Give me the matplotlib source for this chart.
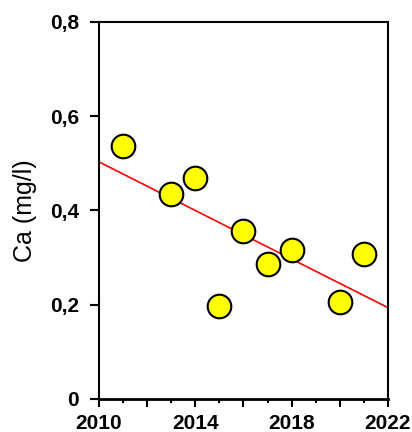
import numpy as np
import matplotlib
matplotlib.use("Agg")
import matplotlib.pyplot as plt
from matplotlib.ticker import FixedLocator, FixedFormatter

years = [2011, 2013, 2014, 2015, 2016, 2017, 2018, 2020, 2021]
ca = [0.536, 0.435, 0.468, 0.197, 0.357, 0.286, 0.316, 0.206, 0.307]

x_major = [2010, 2012, 2014, 2016, 2018, 2020, 2022]
x_major_labels = ["2010", "", "2014", "", "2018", "", "2022"]
x_minor = [2011, 2013, 2015, 2017, 2019, 2021]
y_ticks = [0, 0.2, 0.4, 0.6, 0.8]
y_tick_labels = ["0", "0,2", "0,4", "0,6", "0,8"]
ylabel = "Ca (mg/l)"

plt.rcParams['font.family'] = ['Liberation Sans', 'DejaVu Sans']

fig = plt.figure(figsize=(4.12, 4.32), dpi=100)
ax = fig.add_axes([0.2403, 0.0764, 0.9417 - 0.2403, 0.9498 - 0.0764])

# regression trend line
coef = np.polyfit(years, ca, 1)
xl = np.array([2010, 2022])
ax.plot(xl, np.polyval(coef, xl), color='red', lw=1.2, zorder=2)

ax.plot(years, ca, 'o', ms=17, mfc='#FFFF00', mec='black', mew=1.5,
        zorder=3, clip_on=False)

ax.set_xlim(2010, 2022)
ax.set_ylim(0, 0.8)

ax.xaxis.set_major_locator(FixedLocator(x_major))
ax.xaxis.set_major_formatter(FixedFormatter(x_major_labels))
ax.xaxis.set_minor_locator(FixedLocator(x_minor))
ax.yaxis.set_major_locator(FixedLocator(y_ticks))
ax.yaxis.set_major_formatter(FixedFormatter(y_tick_labels))

ax.tick_params(axis='x', which='major', direction='out', length=6, width=1.5,
               pad=4.5, labelsize=15)
ax.tick_params(axis='x', which='minor', direction='out', length=3, width=1.5)
ax.tick_params(axis='y', which='major', direction='out', length=6.5, width=1.5,
               pad=8, labelsize=15)
for lab in ax.get_xticklabels() + ax.get_yticklabels():
    lab.set_fontweight('bold')

for s in ax.spines.values():
    s.set_linewidth(1.5)
ax.spines['bottom'].set_linewidth(2)

ax.set_ylabel(ylabel, fontsize=18, labelpad=9)

fig.savefig("out.png", dpi=100)
